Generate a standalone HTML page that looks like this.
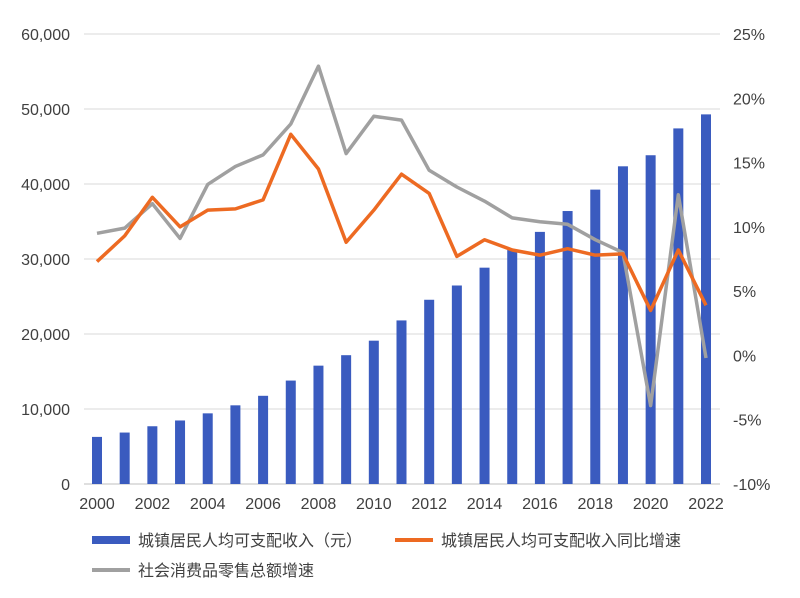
<!DOCTYPE html>
<html><head><meta charset="utf-8"><style>
body{margin:0;background:#fff;}
svg text{font-family:"Liberation Sans","Noto Sans CJK SC",sans-serif;fill:#404040;}
</style></head><body>
<svg id="chart" width="800" height="593" viewBox="0 0 800 593" xmlns="http://www.w3.org/2000/svg">
<g id="grid"></g><g id="bars"></g><g id="lines"></g><g id="axes"></g>
<g>
<g><rect x="92" y="536" width="38" height="8" fill="#3a5bbf"/><text x="138" y="546" font-size="16">城镇居民人均可支配收入（元）</text></g>
<g><line x1="395" y1="540" x2="433" y2="540" stroke="#ed6a22" stroke-width="4"/><text x="441" y="546" font-size="16">城镇居民人均可支配收入同比增速</text></g>
<g><line x1="92" y1="570" x2="130" y2="570" stroke="#a0a0a0" stroke-width="4"/><text x="138" y="576" font-size="16">社会消费品零售总额增速</text></g>
</g>
</svg>
<script>
const years=[2000,2001,2002,2003,2004,2005,2006,2007,2008,2009,2010,2011,2012,2013,2014,2015,2016,2017,2018,2019,2020,2021,2022];
const income=[6280,6860,7700,8470,9420,10490,11760,13790,15780,17175,19109,21810,24565,26467,28844,31195,33616,36396,39251,42359,43834,47412,49283];
const incomeGrowth=[7.3,9.3,12.3,10.0,11.3,11.4,12.1,17.2,14.5,8.8,11.3,14.1,12.6,7.7,9.0,8.2,7.8,8.3,7.8,7.9,3.5,8.2,3.9];
const retailGrowth=[9.5,9.9,11.8,9.1,13.3,14.7,15.6,18.0,22.5,15.7,18.6,18.3,14.4,13.1,12.0,10.7,10.4,10.2,9.0,8.0,-3.9,12.5,-0.2];
const leftTicks=[0,10000,20000,30000,40000,50000,60000];
const rightTicks=[-10,-5,0,5,10,15,20,25];
const xLabels=[2000,2002,2004,2006,2008,2010,2012,2014,2016,2018,2020,2022];
const NS="http://www.w3.org/2000/svg";
const yTop=34,yBot=484;
const yL=v=>yBot-(v/60000)*(yBot-yTop);
const yR=v=>yBot-((v+10)/35)*(yBot-yTop);
const xS=yr=>97+(yr-2000)*(609/22);
function mk(tag,attrs,parent,txt){const e=document.createElementNS(NS,tag);for(const k in attrs)e.setAttribute(k,attrs[k]);if(txt!==undefined)e.textContent=txt;document.getElementById(parent).appendChild(e);return e;}
leftTicks.forEach(t=>{
const g=mk('line',{x1:84,x2:720,y1:yL(t),y2:yL(t),stroke:t===0?'#bfbfbf':'#d9d9d9','stroke-width':1},'grid');


const l=mk('text',{x:70,y:yL(t)+6,'text-anchor':'end','font-size':16},'axes',t.toLocaleString('en-US'));


});
rightTicks.forEach(t=>{
const l=mk('text',{x:733,y:yR(t)+6,'font-size':16},'axes',t+'%');


});
xLabels.forEach(yr=>{
const l=mk('text',{x:xS(yr),y:509,'text-anchor':'middle','font-size':16},'axes',String(yr));


});
years.forEach((yr,i)=>{
const b=mk('rect',{x:xS(yr)-5,y:yL(income[i]),width:10,height:yBot-yL(income[i]),fill:'#3a5bbf'},'bars');


});
function drawLine(arr,color,name){
const p=mk('polyline',{points:arr.map((v,i)=>xS(years[i])+','+yR(v)).join(' '),fill:'none',stroke:color,'stroke-width':3.5,'stroke-linejoin':'round'},'lines');


}
drawLine(retailGrowth,'#a0a0a0','retail-growth-line');
drawLine(incomeGrowth,'#ed6a22','income-growth-line');
</script>
</body></html>
